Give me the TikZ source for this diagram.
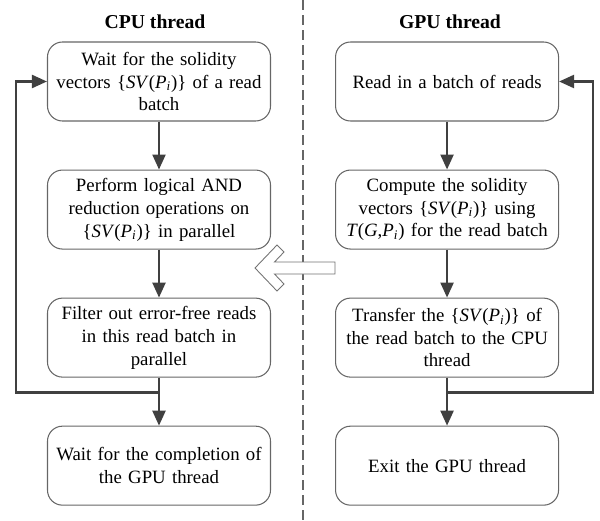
\documentclass[tikz,border=0pt]{standalone}
\usepackage{fontspec}
\setmainfont{Liberation Serif}
\usepackage{tikz}
\usetikzlibrary{positioning, arrows.meta}
\tikzstyle{stepbox} = [rectangle, rounded corners=0.3cm, minimum width=4.46cm, minimum height=1.58cm, text width=4.3cm, align=center, inner sep=0pt, draw=black!60, line width=0.6pt, font=\fontsize{10.7}{13}\selectfont]
\tikzstyle{title} = [font=\fontsize{11.2}{13}\selectfont\bfseries]
\tikzstyle{arrow} = [line width=1.3pt, draw=black!75, -{Triangle[length=0.3cm,width=0.26cm]}]
\newcommand{\svp}{\{\textit{SV}(\textit{P}\textsubscript{\textit{i}})\}}

\begin{document}
\begin{tikzpicture}[node distance=0.96cm]
	\useasboundingbox (0,0) rectangle (12,-10.42);
	% CPU side
	\node(waitvectors) [stepbox] at (3.18,-1.63) {Wait for the solidity\\vectors \svp{} of a read\\batch};
	\node(logicaland) [stepbox, below=of waitvectors] {Perform logical AND\\reduction operations on\\\svp{} in parallel};
	\node(filterreads) [stepbox, below=of logicaland] {Filter out error-free reads\\in this read batch in\\parallel};
	\node(waitgpu) [stepbox, below=of filterreads] {Wait for the completion of\\the GPU thread};
	% GPU side
	\node(readbatch) [stepbox, right=1.28cm of waitvectors] {Read in a batch of reads};
	\node(computevectors) [stepbox, below=of readbatch] {Compute the solidity\\vectors \svp{} using\\\textit{T}(\textit{G},\textit{P}\textsubscript{\textit{i}}) for the read batch};
	\node(transfervectors) [stepbox, below=of computevectors] {Transfer the \svp{} of\\the read batch to the CPU\\thread};
	\node(exitgpu) [stepbox, below=of transfervectors] {Exit the GPU thread};
	
	\node(cputitle) [title] at (3.10,-0.44) {CPU thread};
	\node(gputitle) [title] at (9.00,-0.44) {GPU thread};
	
	\coordinate(dashtop) at (6.06,0);
	\coordinate(dashbottom) at (6.06,-10.42);
	\draw[black!60, line width=0.85pt, dash pattern=on 0.2cm off 0.1cm] (dashtop) -- (dashbottom);
	
	\draw[arrow] (waitvectors) -- (logicaland);
	\draw[arrow] (logicaland) -- (filterreads);
	\draw[arrow] (filterreads) -- (waitgpu);
	\coordinate(cpujoin) at ([yshift=-0.3cm]filterreads.south);
	\draw[arrow] (cpujoin) -- ++(-2.86,0) |- (waitvectors.west);
	
	\draw[arrow] (readbatch) -- (computevectors);
	\draw[arrow] (computevectors) -- (transfervectors);
	\draw[arrow] (transfervectors) -- (exitgpu);
	\coordinate(gpujoin) at ([yshift=-0.3cm]transfervectors.south);
	\draw[arrow] (gpujoin) -- ++(2.92,0) |- (readbatch.east);
	
	% hollow arrow from GPU to CPU
	\draw[black!55, fill=white, line width=0.5pt] (5.10,-5.36) -- (5.54,-4.90) -- (5.68,-5.04) -- (5.49,-5.24) -- (6.70,-5.24) -- (6.70,-5.48) -- (5.49,-5.48) -- (5.68,-5.68) -- (5.54,-5.82) -- cycle;
\end{tikzpicture}
\end{document}
